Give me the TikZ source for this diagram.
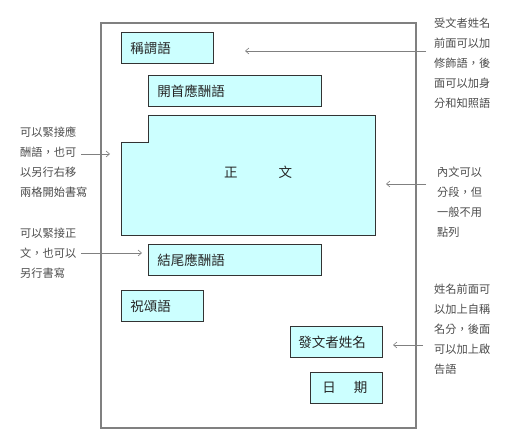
\documentclass[tikz,border=0pt]{standalone}
\usepackage{fontspec}
\setmainfont{Noto Sans CJK TC}
\usetikzlibrary{arrows.meta}
\definecolor{partfill}{HTML}{CCFFFF}

\begin{document}
\begin{tikzpicture}[x=1pt, y=-1pt,
  part/.style={draw=black!80, line width=0.8pt, fill=partfill, anchor=north west,
    minimum height=31pt, inner xsep=9pt, inner ysep=0pt, align=left,
    font=\fontsize{13.5pt}{16pt}\selectfont, text=black!85},
  note/.style={anchor=west, inner sep=0pt, align=left,
    font=\fontsize{11.2pt}{20pt}\selectfont, text=black!70},
  pointer/.style={draw=black!50, line width=0.6pt, -{Straight Barb[length=3.5pt, width=6pt]}}]
\useasboundingbox (0,0) rectangle (512,438);

% page
\draw[black!50, line width=1.2pt] (101,23) rectangle (416,428);

% parts of the letter
\node[part, text width=74pt] (greet) at (121,32) {稱謂語};
\node[part, text width=155pt] (opening) at (148,75) {開首應酬語};
\draw[draw=black!80, line width=0.8pt, fill=partfill]
  (148,115) -- (375,115) -- (375,235) -- (121,235) -- (121,142) -- (148,142) -- cycle;
\node[font=\fontsize{13.5pt}{16pt}\selectfont, text=black!85] (body) at (258,172) {正\hspace{41pt}文};
\node[part, text width=155pt] (closing) at (148,244) {結尾應酬語};
\node[part, text width=64pt] (salute) at (121,290) {祝頌語};
\node[part, text width=76pt, inner xsep=8pt] (sender) at (290,326) {發文者姓名};
\node[part, text width=48pt, inner xsep=12pt] (date) at (310,372) {日\hspace{18pt}期};

% notes
\node[note] (recvnote) at (434,63) {受文者姓名\\前面可以加\\修飾語，後\\面可以加身\\分和知照語};
\node[note] (openingnote) at (20,162) {可以緊接應\\酬語，也可\\以另行右移\\兩格開始書寫};
\node[note] (bodynote) at (437,202) {內文可以\\分段，但\\一般不用\\點列};
\node[note] (closingnote) at (20,253) {可以緊接正\\文，也可以\\另行書寫};
\node[note] (signnote) at (434,329) {姓名前面可\\以加上自稱\\名分，後面\\可以加上啟\\告語};

% pointers
\coordinate (recv-from) at (426,51);
\coordinate (recv-to) at (245,51);
\coordinate (opening-from) at (81,154);
\coordinate (opening-to) at (110,154);
\coordinate (body-from) at (426,184);
\coordinate (body-to) at (386,184);
\coordinate (closing-from) at (81,253);
\coordinate (closing-to) at (142,253);
\coordinate (sign-from) at (423,345);
\coordinate (sign-to) at (393,345);
\draw[pointer] (recv-from) -- (recv-to);
\draw[pointer] (opening-from) -- (opening-to);
\draw[pointer] (body-from) -- (body-to);
\draw[pointer] (closing-from) -- (closing-to);
\draw[pointer] (sign-from) -- (sign-to);
\end{tikzpicture}
\end{document}
